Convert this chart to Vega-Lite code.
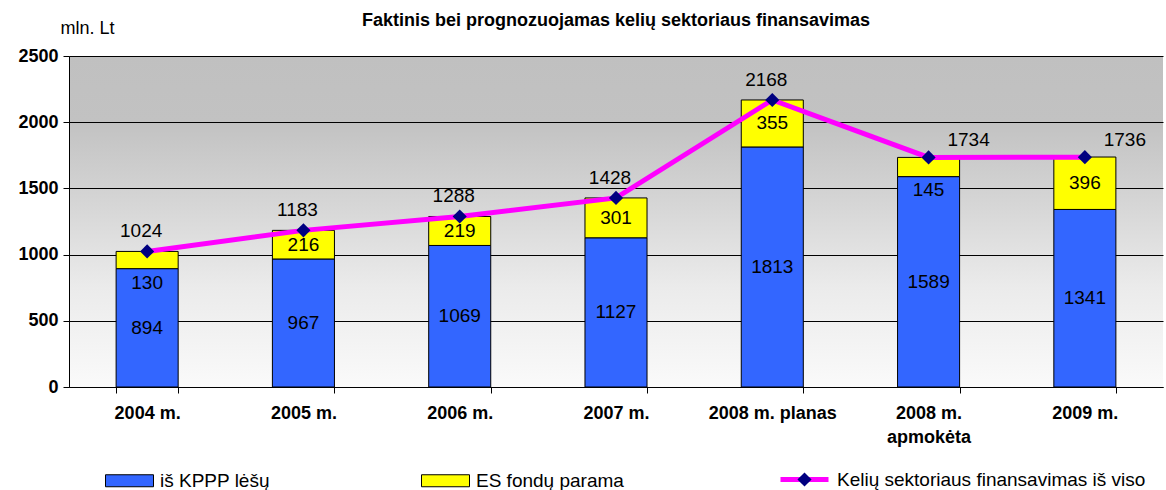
{
  "$schema": "https://vega.github.io/schema/vega-lite/v6.json",
  "width": 1094,
  "height": 331,
  "autosize": {"type": "none"},
  "padding": {"left": 69, "top": 56, "right": 3, "bottom": 103},
  "background": "white",
  "title": {
    "text": "Faktinis bei prognozuojamas kelių sektoriaus finansavimas",
    "font": "Liberation Sans",
    "fontSize": 18,
    "fontWeight": "bold",
    "color": "black",
    "anchor": "middle",
    "offset": -11
  },
  "view": {
    "stroke": null,
    "fill": {
      "gradient": "linear",
      "x1": 0, "y1": 0, "x2": 0, "y2": 1,
      "stops": [
        {"offset": 0, "color": "#C0C0C0"},
        {"offset": 0.2, "color": "#C2C2C2"},
        {"offset": 0.45, "color": "#D6D6D6"},
        {"offset": 0.7, "color": "#EBEBEB"},
        {"offset": 1, "color": "#FAFAFA"}
      ]
    }
  },
  "config": {
    "font": "Liberation Sans",
    "text": {"font": "Liberation Sans", "fontSize": 19, "color": "black"},
    "legend": {"labelFont": "Liberation Sans", "labelFontSize": 19, "labelColor": "black", "padding": 0, "labelLimit": 500}
  },
  "datasets": {
    "parts": [
      {"cat": "2004 m.", "series": "iš KPPP lėšų", "value": 894},
      {"cat": "2004 m.", "series": "ES fondų parama", "value": 130},
      {"cat": "2005 m.", "series": "iš KPPP lėšų", "value": 967},
      {"cat": "2005 m.", "series": "ES fondų parama", "value": 216},
      {"cat": "2006 m.", "series": "iš KPPP lėšų", "value": 1069},
      {"cat": "2006 m.", "series": "ES fondų parama", "value": 219},
      {"cat": "2007 m.", "series": "iš KPPP lėšų", "value": 1127},
      {"cat": "2007 m.", "series": "ES fondų parama", "value": 301},
      {"cat": "2008 m. planas", "series": "iš KPPP lėšų", "value": 1813},
      {"cat": "2008 m. planas", "series": "ES fondų parama", "value": 355},
      {"cat": "2008 m. apmokėta", "series": "iš KPPP lėšų", "value": 1589},
      {"cat": "2008 m. apmokėta", "series": "ES fondų parama", "value": 145},
      {"cat": "2009 m.", "series": "iš KPPP lėšų", "value": 1341},
      {"cat": "2009 m.", "series": "ES fondų parama", "value": 396}
    ],
    "totals": [
      {"cat": "2004 m.", "total": 1024},
      {"cat": "2005 m.", "total": 1183},
      {"cat": "2006 m.", "total": 1288},
      {"cat": "2007 m.", "total": 1428},
      {"cat": "2008 m. planas", "total": 2168},
      {"cat": "2008 m. apmokėta", "total": 1734},
      {"cat": "2009 m.", "total": 1736}
    ]
  },
  "encoding": {
    "x": {
      "field": "cat",
      "type": "nominal",
      "sort": null,
      "scale": {
        "domain": ["2004 m.", "2005 m.", "2006 m.", "2007 m.", "2008 m. planas", "2008 m. apmokėta", "2009 m."],
        "paddingInner": 0.603,
        "paddingOuter": 0.3015
      },
      "axis": {
        "title": null,
        "labelAngle": 0,
        "labelFont": "Liberation Sans",
        "labelFontSize": 18,
        "labelFontWeight": "bold",
        "labelColor": "black",
        "labelPadding": 11,
        "labelLineHeight": 24,
        "labelBaseline": "top",
        "labelExpr": "datum.label == '2008 m. apmokėta' ? ['2008 m.', 'apmokėta'] : datum.label",
        "tickBand": "extent",
        "tickSize": 6,
        "tickColor": "black",
        "domainColor": "black",
        "grid": false
      }
    }
  },
  "layer": [
    {
      "data": {"name": "parts"},
      "transform": [
        {"stack": "value", "groupby": ["cat"], "sort": [{"field": "series", "order": "descending"}], "as": ["v0", "v1"]}
      ],
      "mark": {"type": "bar", "stroke": "black", "strokeWidth": 1},
      "encoding": {
        "y": {
          "field": "v0",
          "type": "quantitative",
          "scale": {"domain": [0, 2500], "nice": false},
          "axis": {
            "values": [0, 500, 1000, 1500, 2000, 2500],
            "format": "d",
            "title": "mln. Lt",
            "titleAngle": 0,
            "titleAlign": "left",
            "titleBaseline": "middle",
            "titleX": -9,
            "titleY": -28,
            "titleFont": "Liberation Sans",
            "titleFontSize": 18,
            "titleFontWeight": "normal",
            "titleColor": "black",
            "labelFont": "Liberation Sans",
            "labelFontSize": 18,
            "labelFontWeight": "bold",
            "labelColor": "black",
            "labelPadding": 5,
            "tickSize": 6,
            "tickColor": "black",
            "domainColor": "black",
            "grid": true,
            "gridColor": "black",
            "gridOpacity": 1
          }
        },
        "y2": {"field": "v1"},
        "fill": {
          "field": "series",
          "type": "nominal",
          "scale": {"domain": ["iš KPPP lėšų", "ES fondų parama"], "range": ["#3366FF", "#FFFF00"]},
          "legend": {
            "title": null,
            "orient": "none",
            "legendX": 36,
            "legendY": 400,
            "direction": "horizontal",
            "columns": 2,
            "columnPadding": 149,
            "symbolType": "M-1,-0.25H1V0.25H-1Z",
            "symbolSize": 2304,
            "symbolStrokeColor": "black",
            "symbolStrokeWidth": 1,
            "symbolOpacity": 1,
            "labelOffset": 6
          }
        }
      }
    },
    {
      "data": {"name": "parts"},
      "transform": [
        {"stack": "value", "groupby": ["cat"], "sort": [{"field": "series", "order": "descending"}], "as": ["v0", "v1"]},
        {"calculate": "(datum.v0 + datum.v1) / 2", "as": "mid"},
        {"filter": "datum.value >= 200"}
      ],
      "mark": {"type": "text", "baseline": "middle", "align": "center"},
      "encoding": {
        "y": {"field": "mid", "type": "quantitative"},
        "text": {"field": "value", "type": "quantitative"}
      }
    },
    {
      "data": {"name": "parts"},
      "transform": [
        {"stack": "value", "groupby": ["cat"], "sort": [{"field": "series", "order": "descending"}], "as": ["v0", "v1"]},
        {"calculate": "(datum.v0 + datum.v1) / 2", "as": "mid"},
        {"filter": "datum.value < 200"}
      ],
      "mark": {"type": "text", "baseline": "middle", "align": "center", "dy": 23},
      "encoding": {
        "y": {"field": "mid", "type": "quantitative"},
        "text": {"field": "value", "type": "quantitative"}
      }
    },
    {
      "data": {"name": "totals"},
      "mark": {"type": "line", "strokeWidth": 5},
      "encoding": {
        "y": {"field": "total", "type": "quantitative"},
        "stroke": {
          "datum": "Kelių sektoriaus finansavimas iš viso",
          "type": "nominal",
          "scale": {"range": ["#FF00FF"]},
          "legend": {
            "title": null,
            "orient": "none",
            "legendX": 709,
            "legendY": 397,
            "symbolType": "stroke",
            "symbolSize": 2304,
            "symbolStrokeWidth": 5,
            "labelOffset": 6,
            "labelLimit": 500
          }
        }
      }
    },
    {
      "data": {"name": "totals"},
      "mark": {"type": "point", "filled": true, "size": 200, "color": "#000080", "opacity": 1},
      "encoding": {
        "y": {"field": "total", "type": "quantitative"},
        "shape": {
          "datum": "marker",
          "type": "nominal",
          "scale": {"range": ["diamond"]},
          "legend": {
            "title": null,
            "orient": "none",
            "legendX": 726,
            "legendY": 414,
            "symbolSize": 200,
            "symbolFillColor": "#000080",
            "symbolStrokeColor": "#000080",
            "symbolStrokeWidth": 0,
            "symbolOpacity": 1,
            "labelExpr": "''"
          }
        }
      }
    },
    {
      "data": {"name": "totals"},
      "transform": [{"filter": "datum.cat != '2008 m. apmokėta' && datum.cat != '2009 m.'"}],
      "mark": {"type": "text", "baseline": "middle", "align": "center", "dx": -6, "dy": -20},
      "encoding": {
        "y": {"field": "total", "type": "quantitative"},
        "text": {"field": "total", "type": "quantitative"}
      }
    },
    {
      "data": {"name": "totals"},
      "transform": [{"filter": "datum.cat == '2008 m. apmokėta' || datum.cat == '2009 m.'"}],
      "mark": {"type": "text", "baseline": "middle", "align": "center", "dx": 40, "dy": -17},
      "encoding": {
        "y": {"field": "total", "type": "quantitative"},
        "text": {"field": "total", "type": "quantitative"}
      }
    }
  ]
}
